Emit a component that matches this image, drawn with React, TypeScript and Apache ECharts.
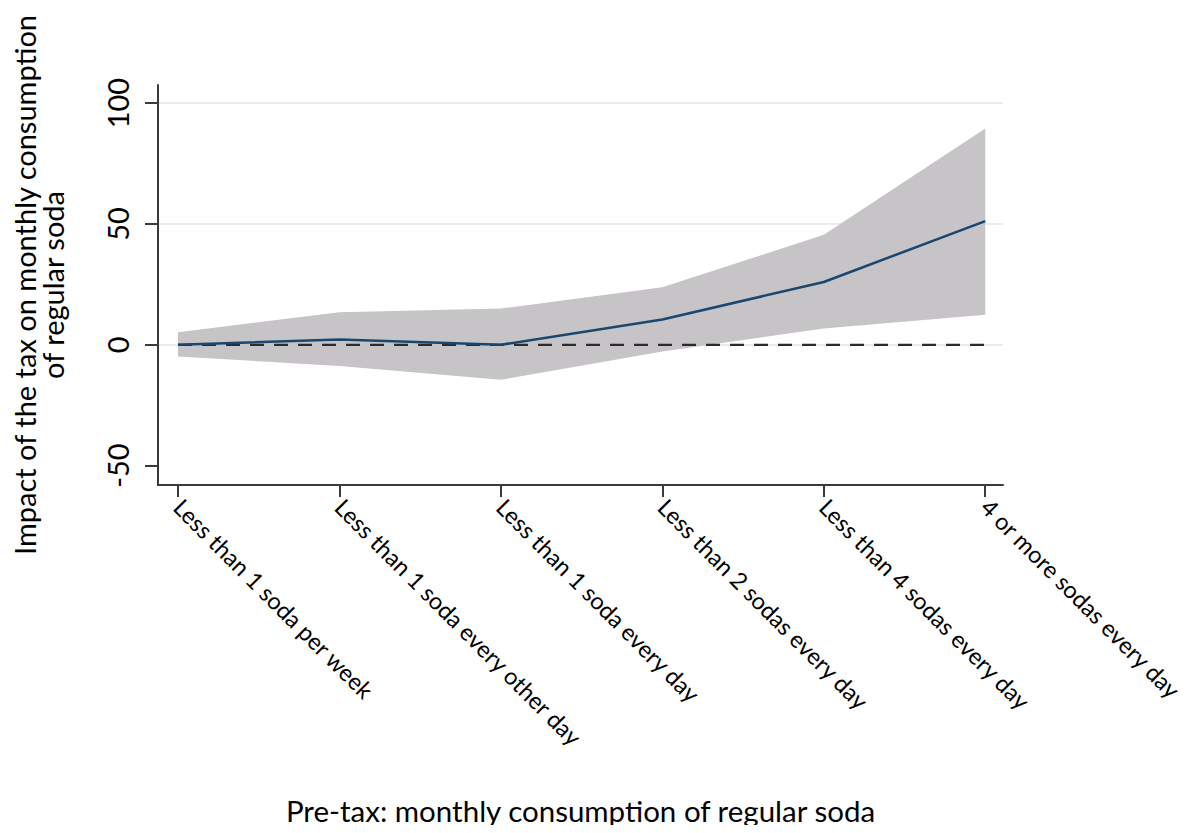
import React, { useEffect, useRef } from "react";
import * as echarts from "echarts";

// Pre-tax consumption groups (x positions 0..5)
const categories = [
  "Less than 1 soda per week",
  "Less than 1 soda every other day",
  "Less than 1 soda every day",
  "Less than 2 sodas every day",
  "Less than 4 sodas every day",
  "4 or more sodas every day",
];

// Point estimate and confidence bounds
const estimate = [0, 2.2, 0, 10.5, 26, 51.2];
const upperBound = [5.2, 13.5, 15, 23.8, 45.5, 89.5];
const lowerBound = [-4.8, -8.8, -14.5, -2.8, 6.8, 12.4];

const yTicks = [-50, 0, 50, 100];
const gridValues = [0, 50, 100];

const FONT = "Lato, 'Open Sans', sans-serif";

export default function App() {
  const ref = useRef<HTMLDivElement>(null);

  useEffect(() => {
    if (!ref.current) return;
    const chart = echarts.init(ref.current, undefined, { renderer: "svg" });

    const xs = categories.map((_, i) => i);
    const estData = xs.map((x, i) => [x, estimate[i]]);
    const bandData = xs.map((x, i) => [x, lowerBound[i], upperBound[i]]);

    chart.setOption({
      animation: false,
      backgroundColor: "#ffffff",
      textStyle: { fontFamily: FONT },
      grid: {
        left: 158,
        right: 187,
        top: 85,
        bottom: 348,
        containLabel: false,
        outerBoundsMode: "none",
      },
      xAxis: {
        type: "value",
        min: -0.124,
        max: 5.11,
        name: "Pre-tax: monthly consumption of regular soda",
        nameLocation: "middle",
        nameGap: 310,
        nameTextStyle: { fontSize: 29.5, color: "#000", fontFamily: FONT },
        axisLine: { show: true, onZero: false, lineStyle: { color: "#3a3a3a", width: 2 } },
        axisTick: {
          show: true,
          length: 12,
          customValues: xs,
          lineStyle: { color: "#3a3a3a", width: 2 },
        },
        axisLabel: {
          customValues: xs,
          rotate: -45,
          margin: 18,
          fontSize: 23.5,
          color: "#000",
          fontFamily: FONT,
          formatter: (v: number) => categories[Math.round(v)] ?? "",
        },
        splitLine: { show: false },
      },
      yAxis: {
        type: "value",
        min: -58,
        max: 107.5,
        name: "Impact of the tax on monthly consumption\nof regular soda",
        nameLocation: "middle",
        nameRotate: 90,
        nameGap: 92,
        nameTextStyle: { fontSize: 29, color: "#000", fontFamily: FONT, lineHeight: 28 },
        axisLine: { show: true, onZero: false, lineStyle: { color: "#3a3a3a", width: 2 } },
        axisTick: {
          show: true,
          length: 13,
          customValues: yTicks,
          lineStyle: { color: "#3a3a3a", width: 2 },
        },
        axisLabel: {
          customValues: yTicks,
          rotate: 90,
          margin: 26,
          fontSize: 29,
          color: "#000",
          fontFamily: FONT,
        },
        splitLine: { show: false },
      },
      series: [
        {
          // horizontal reference grid, kept beneath the band
          type: "line",
          data: [],
          z: 0,
          markLine: {
            silent: true,
            z: 0,
            symbol: "none",
            label: { show: false },
            lineStyle: { color: "#ebebeb", type: "solid", width: 2 },
            data: gridValues.map((v) => ({ yAxis: v })),
          },
        },
        {
          // confidence band drawn as one polygon from the bound arrays
          type: "custom",
          data: bandData,
          z: 1,
          silent: true,
          renderItem: (params: any, api: any) => {
            if (params.dataIndex !== 0) return null;
            const upper = bandData.map((d) => api.coord([d[0], d[2]]));
            const lower = bandData
              .slice()
              .reverse()
              .map((d) => api.coord([d[0], d[1]]));
            return {
              type: "polygon",
              shape: { points: upper.concat(lower) },
              style: { fill: "#c6c4c6" },
            };
          },
        },
        {
          type: "line",
          data: [
            [0, 0],
            [5, 0],
          ],
          showSymbol: false,
          lineStyle: { color: "#2b2b2b", width: 2.2, type: [14, 10] },
          z: 3,
        },
        {
          type: "line",
          data: estData,
          showSymbol: false,
          lineStyle: { color: "#1a476f", width: 2.5 },
          z: 4,
        },
      ],
    });

    return () => chart.dispose();
  }, []);

  return <div ref={ref} style={{ width: 1190, height: 833, margin: -8 }} />;
}
